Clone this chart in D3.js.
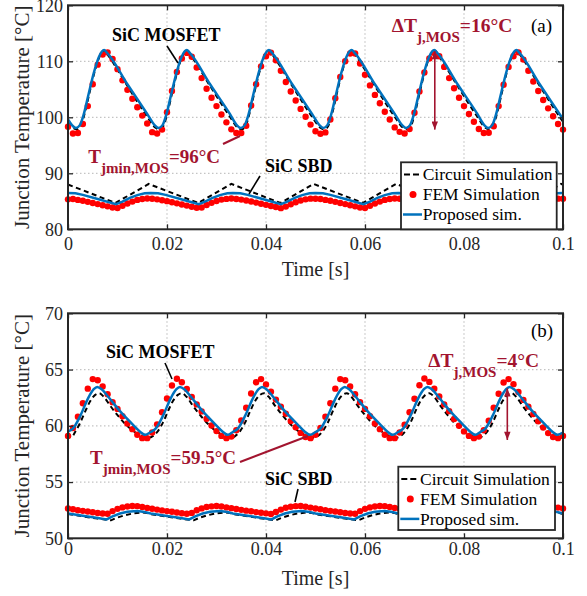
<!DOCTYPE html>
<html>
<head>
<meta charset="utf-8">
<style>
body { margin: 0; background: #fff; }
svg { display: block; }
</style>
</head>
<body>
<svg width="587" height="596"></svg>
<script src="https://d3js.org/d3.v7.min.js"></script>
<script>

// ---- data ----
const xTicks = [0, 0.02, 0.04, 0.06, 0.08, 0.1];
const yTicksA = [80, 90, 100, 110, 120];
const yTicksB = [50, 55, 60, 65, 70];
const legendLabels = ['Circuit Simulation', 'FEM Simulation', 'Proposed sim.'];

// FEM markers, one every 1 ms from 0 to 100 ms
const femTimeMs = d3.range(0, 101);

const femMosA = [
	98.3, 97.1, 97.2, 98.8, 102.0, 105.9, 109.4, 111.2, 111.6, 110.4, 108.6, 106.6, 104.9, 103.3, 101.8, 100.3, 98.9,
	97.35, 97.1, 97.8, 100.9, 104.7, 108.1, 110.5, 111.5, 110.8, 108.9, 107.0, 105.1, 103.5, 102.0, 100.5, 99.1, 97.85,
	97.2, 97.2, 98.5, 102.1, 105.9, 109.1, 110.9, 111.55, 110.2, 108.3, 106.3, 104.6, 103.0, 101.5, 100.1, 98.7,
	97.5, 97.05, 97.3, 99.6, 103.4, 107.2, 110.0, 111.4, 111.4, 109.6, 107.6, 105.7, 104.0, 102.5, 101.0, 99.6, 98.2,
	97.4, 97.1, 97.9, 100.8, 104.6, 108.0, 110.5, 111.5, 110.9, 109.0, 107.0, 105.2, 103.5, 102.0, 100.6, 99.2, 97.9,
	97.2, 97.25, 98.4, 102.0, 105.8, 109.0, 110.9, 111.6, 110.3, 108.3, 106.4, 104.7, 103.1, 101.6, 100.2, 98.8, 97.8
];
const femSbdA = [
	85.35, 85.4, 85.25, 85.1, 84.9, 84.7, 84.5, 84.3, 84.1, 83.9, 83.8, 84.2, 84.6, 84.95, 85.25, 85.4, 85.5,
	85.45, 85.35, 85.2, 85.03, 84.83, 84.63, 84.43, 84.23, 84.03, 83.85, 83.9, 84.33, 84.72, 85.05, 85.3, 85.43, 85.5,
	85.42, 85.3, 85.15, 84.97, 84.77, 84.57, 84.37, 84.17, 83.97, 83.78, 84.05, 84.47, 84.83, 85.15, 85.35, 85.47,
	85.45, 85.4, 85.25, 85.1, 84.9, 84.7, 84.5, 84.3, 84.1, 83.9, 83.8, 84.2, 84.6, 84.95, 85.25, 85.4, 85.5,
	85.45, 85.35, 85.2, 85.03, 84.83, 84.63, 84.43, 84.23, 84.03, 83.85, 83.9, 84.33, 84.72, 85.05, 85.3, 85.43, 85.5,
	85.42, 85.3, 85.15, 84.97, 84.77, 84.57, 84.37, 84.17, 83.97, 83.78, 84.05, 84.47, 84.83, 85.15, 85.35, 85.47, 85.45
];
const femMosB = [
	59.1, 59.8, 60.8, 62.0, 63.3, 64.15, 64.05, 63.5, 62.8, 62.1, 61.5, 60.85, 60.2, 59.7, 59.2, 58.9, 58.9,
	59.4, 60.13, 61.2, 62.43, 63.58, 64.18, 63.87, 63.27, 62.57, 61.9, 61.28, 60.63, 60.03, 59.53, 59.1, 58.9, 59.05,
	59.6, 60.47, 61.6, 62.87, 63.87, 64.15, 63.68, 63.03, 62.33, 61.7, 61.07, 60.42, 59.87, 59.37, 59.0, 58.9,
	59.2, 59.8, 60.8, 62.0, 63.3, 64.15, 64.05, 63.5, 62.8, 62.1, 61.5, 60.85, 60.2, 59.7, 59.2, 58.9, 58.9,
	59.4, 60.1, 61.2, 62.4, 63.6, 64.2, 63.9, 63.3, 62.6, 61.9, 61.3, 60.6, 60.0, 59.5, 59.1, 58.9, 59.05,
	59.6, 60.45, 61.6, 62.85, 63.85, 64.15, 63.7, 63.0, 62.3, 61.7, 61.05, 60.4, 59.85, 59.35, 59.0, 58.9, 59.1
];
const femSbdB = [
	52.65, 52.58, 52.5, 52.44, 52.38, 52.31, 52.25, 52.2, 52.18, 52.42, 52.62, 52.75, 52.83, 52.87, 52.86, 52.78, 52.7,
	52.63, 52.55, 52.48, 52.42, 52.36, 52.29, 52.23, 52.18, 52.26, 52.49, 52.66, 52.78, 52.84, 52.87, 52.83, 52.75, 52.68,
	52.6, 52.53, 52.46, 52.4, 52.33, 52.27, 52.22, 52.16, 52.34, 52.55, 52.71, 52.8, 52.86, 52.87, 52.81, 52.73,
	52.65, 52.58, 52.5, 52.44, 52.38, 52.31, 52.25, 52.2, 52.18, 52.42, 52.62, 52.75, 52.83, 52.87, 52.86, 52.78, 52.7,
	52.63, 52.55, 52.48, 52.42, 52.36, 52.29, 52.23, 52.18, 52.26, 52.49, 52.66, 52.78, 52.84, 52.87, 52.83, 52.75, 52.68,
	52.6, 52.53, 52.46, 52.4, 52.33, 52.27, 52.22, 52.16, 52.34, 52.55, 52.71, 52.8, 52.86, 52.87, 52.81, 52.73, 52.65
];

// line series as [time ms, temperature]
const propMosA = [
	[0, 99.6], [0.8, 98.6], [1.6, 98.1], [2.4, 98.6], [3.2, 100.6], [4.2, 104.3], [5.2, 107.9], [6.2, 110.7], [7.3, 112.0], [7.9, 111.5], [12.0, 105.9], [16.0, 100.6],
	[17.5, 98.6], [18.3, 98.1], [19.1, 98.6], [19.9, 100.6], [20.9, 104.3], [21.9, 107.9], [22.9, 110.7], [24.0, 112.0], [24.6, 111.5], [28.7, 105.9], [32.7, 100.6],
	[34.1, 98.6], [34.9, 98.1], [35.7, 98.6], [36.5, 100.6], [37.5, 104.3], [38.5, 107.9], [39.5, 110.7], [40.6, 112.0], [41.2, 111.5], [45.3, 105.9], [49.3, 100.6],
	[50.8, 98.6], [51.6, 98.1], [52.4, 98.6], [53.2, 100.6], [54.2, 104.3], [55.2, 107.9], [56.2, 110.7], [57.3, 112.0], [57.9, 111.5], [62.0, 105.9], [66.0, 100.6],
	[67.5, 98.6], [68.3, 98.1], [69.1, 98.6], [69.9, 100.6], [70.9, 104.3], [71.9, 107.9], [72.9, 110.7], [74.0, 112.0], [74.6, 111.5], [78.7, 105.9], [82.7, 100.6],
	[84.1, 98.6], [84.9, 98.1], [85.7, 98.6], [86.5, 100.6], [87.5, 104.3], [88.5, 107.9], [89.5, 110.7], [90.6, 112.0], [91.2, 111.5], [95.3, 105.9], [99.3, 100.6], [100, 99.7]
];
const circMosA = [
	[0, 99.2], [0.9, 98.2], [1.8, 97.85], [2.6, 98.5], [3.4, 100.8], [4.4, 104.6], [5.4, 108.2], [6.4, 110.9], [7.4, 111.9], [8.0, 111.2], [12.0, 105.6], [16.0, 100.1],
	[17.6, 98.2], [18.5, 97.85], [19.3, 98.5], [20.1, 100.8], [21.1, 104.6], [22.1, 108.2], [23.1, 110.9], [24.1, 111.9], [24.7, 111.2], [28.7, 105.6], [32.7, 100.1],
	[34.2, 98.2], [35.1, 97.85], [35.9, 98.5], [36.7, 100.8], [37.7, 104.6], [38.7, 108.2], [39.7, 110.9], [40.7, 111.9], [41.3, 111.2], [45.3, 105.6], [49.3, 100.1],
	[50.9, 98.2], [51.8, 97.85], [52.6, 98.5], [53.4, 100.8], [54.4, 104.6], [55.4, 108.2], [56.4, 110.9], [57.4, 111.9], [58.0, 111.2], [62.0, 105.6], [66.0, 100.1],
	[67.6, 98.2], [68.5, 97.85], [69.3, 98.5], [70.1, 100.8], [71.1, 104.6], [72.1, 108.2], [73.1, 110.9], [74.1, 111.9], [74.7, 111.2], [78.7, 105.6], [82.7, 100.1],
	[84.2, 98.2], [85.1, 97.85], [85.9, 98.5], [86.7, 100.8], [87.7, 104.6], [88.7, 108.2], [89.7, 110.9], [90.7, 111.9], [91.3, 111.2], [95.3, 105.6], [99.3, 100.1], [100, 99.2]
];
const propSbdA = [
	[0, 86.5], [1.5, 86.45], [3, 86.15], [6, 85.4], [9.7, 84.5], [11, 84.95], [12.5, 85.6], [14, 86.1], [15.5, 86.45],
	[16.7, 86.5], [18.2, 86.45], [19.7, 86.15], [22.7, 85.4], [26.4, 84.5], [27.7, 84.95], [29.2, 85.6], [30.7, 86.1], [32.2, 86.45],
	[33.3, 86.5], [34.8, 86.45], [36.3, 86.15], [39.3, 85.4], [43.0, 84.5], [44.3, 84.95], [45.8, 85.6], [47.3, 86.1], [48.8, 86.45],
	[50, 86.5], [51.5, 86.45], [53, 86.15], [56, 85.4], [59.7, 84.5], [61, 84.95], [62.5, 85.6], [64, 86.1], [65.5, 86.45],
	[66.7, 86.5], [68.2, 86.45], [69.7, 86.15], [72.7, 85.4], [76.4, 84.5], [77.7, 84.95], [79.2, 85.6], [80.7, 86.1], [82.2, 86.45],
	[83.3, 86.5], [84.8, 86.45], [86.3, 86.15], [89.3, 85.4], [93.0, 84.5], [94.3, 84.95], [95.8, 85.6], [97.3, 86.1], [98.8, 86.45], [100, 86.5]
];
const circSbdA = [
	[0, 88.0], [9.6, 84.7], [16.3, 88.1], [26.3, 84.7], [33.0, 88.1], [42.9, 84.7], [49.6, 88.1],
	[59.6, 84.7], [66.3, 88.1], [76.3, 84.7], [83.0, 88.1], [92.9, 84.7], [99.6, 88.1], [100, 88.0]
];
const propMosB = [
	[0, 59.5], [1, 59.75], [2.5, 60.9], [4, 62.4], [5.2, 63.25], [5.9, 63.45], [6.8, 63.25], [8, 62.65], [10.5, 61.3], [13, 60.15], [14.5, 59.5], [15.6, 59.2],
	[16.7, 59.45], [17.7, 59.75], [19.2, 60.9], [20.7, 62.4], [21.9, 63.25], [22.6, 63.45], [23.5, 63.25], [24.7, 62.65], [27.2, 61.3], [29.7, 60.15], [31.2, 59.5], [32.3, 59.2],
	[33.3, 59.45], [34.3, 59.75], [35.8, 60.9], [37.3, 62.4], [38.5, 63.25], [39.2, 63.45], [40.1, 63.25], [41.3, 62.65], [43.8, 61.3], [46.3, 60.15], [47.8, 59.5], [48.9, 59.2],
	[50, 59.45], [51, 59.75], [52.5, 60.9], [54, 62.4], [55.2, 63.25], [55.9, 63.45], [56.8, 63.25], [58, 62.65], [60.5, 61.3], [63, 60.15], [64.5, 59.5], [65.6, 59.2],
	[66.7, 59.45], [67.7, 59.75], [69.2, 60.9], [70.7, 62.4], [71.9, 63.25], [72.6, 63.45], [73.5, 63.25], [74.7, 62.65], [77.2, 61.3], [79.7, 60.15], [81.2, 59.5], [82.3, 59.2],
	[83.3, 59.45], [84.3, 59.75], [85.8, 60.9], [87.3, 62.4], [88.5, 63.25], [89.2, 63.45], [90.1, 63.25], [91.3, 62.65], [93.8, 61.3], [96.3, 60.15], [97.8, 59.5], [98.9, 59.2], [100, 59.4]
];
const circMosB = [
	[0, 59.4], [0.7, 59.0], [1.5, 59.5], [2.5, 60.3], [3.5, 61.3], [4.5, 62.2], [5.5, 62.75], [6.3, 62.9], [7.2, 62.6], [8.5, 61.8], [10, 60.95], [11.5, 60.2], [13, 59.6], [14.5, 59.2], [15.5, 59.0], [16.4, 58.95],
	[17.2, 59.1], [18.2, 59.55], [19.2, 60.3], [20.2, 61.3], [21.2, 62.2], [22.2, 62.75], [23.0, 62.9], [23.9, 62.6], [25.2, 61.8], [26.7, 60.95], [28.2, 60.2], [29.7, 59.6], [31.2, 59.2], [32.2, 59.0], [33.1, 58.95],
	[33.8, 59.1], [34.8, 59.55], [35.8, 60.3], [36.8, 61.3], [37.8, 62.2], [38.8, 62.75], [39.6, 62.9], [40.5, 62.6], [41.8, 61.8], [43.3, 60.95], [44.8, 60.2], [46.3, 59.6], [47.8, 59.2], [48.8, 59.0], [49.7, 58.95],
	[50.5, 59.1], [51.5, 59.55], [52.5, 60.3], [53.5, 61.3], [54.5, 62.2], [55.5, 62.75], [56.3, 62.9], [57.2, 62.6], [58.5, 61.8], [60, 60.95], [61.5, 60.2], [63, 59.6], [64.5, 59.2], [65.5, 59.0], [66.4, 58.95],
	[67.2, 59.1], [68.2, 59.55], [69.2, 60.3], [70.2, 61.3], [71.2, 62.2], [72.2, 62.75], [73.0, 62.9], [73.9, 62.6], [75.2, 61.8], [76.7, 60.95], [78.2, 60.2], [79.7, 59.6], [81.2, 59.2], [82.2, 59.0], [83.1, 58.95],
	[83.8, 59.1], [84.8, 59.55], [85.8, 60.3], [86.8, 61.3], [87.8, 62.2], [88.8, 62.75], [89.6, 62.9], [90.5, 62.6], [91.8, 61.8], [93.3, 60.95], [94.8, 60.2], [96.3, 59.6], [97.8, 59.2], [98.8, 59.0], [99.7, 58.95], [100, 59.0]
];
const propSbdB = [
	[0, 52.2], [3, 52.0], [6, 51.8], [7.8, 51.68], [9, 51.95], [10.5, 52.2], [12, 52.35], [14, 52.42], [15.5, 52.33],
	[16.7, 52.2], [19.7, 52.0], [22.7, 51.8], [24.5, 51.68], [25.7, 51.95], [27.2, 52.2], [28.7, 52.35], [30.7, 52.42], [32.2, 52.33],
	[33.3, 52.2], [36.3, 52.0], [39.3, 51.8], [41.1, 51.68], [42.3, 51.95], [43.8, 52.2], [45.3, 52.35], [47.3, 52.42], [48.8, 52.33],
	[50, 52.2], [53, 52.0], [56, 51.8], [57.8, 51.68], [59, 51.95], [60.5, 52.2], [62, 52.35], [64, 52.42], [65.5, 52.33],
	[66.7, 52.2], [69.7, 52.0], [72.7, 51.8], [74.5, 51.68], [75.7, 51.95], [77.2, 52.2], [78.7, 52.35], [80.7, 52.42], [82.2, 52.33],
	[83.3, 52.2], [86.3, 52.0], [89.3, 51.8], [91.1, 51.68], [92.3, 51.95], [93.8, 52.2], [95.3, 52.35], [97.3, 52.42], [98.8, 52.33], [100, 52.2]
];
const circSbdB = [
	[0, 52.15], [3, 51.95], [6, 51.75], [8.7, 51.6], [10, 51.85], [11.5, 52.05], [13, 52.2], [15, 52.3], [16, 52.25],
	[16.7, 52.15], [19.7, 51.95], [22.7, 51.75], [25.4, 51.6], [26.7, 51.85], [28.2, 52.05], [29.7, 52.2], [31.7, 52.3], [32.7, 52.25],
	[33.3, 52.15], [36.3, 51.95], [39.3, 51.75], [42.0, 51.6], [43.3, 51.85], [44.8, 52.05], [46.3, 52.2], [48.3, 52.3], [49.3, 52.25],
	[50, 52.15], [53, 51.95], [56, 51.75], [58.7, 51.6], [60, 51.85], [61.5, 52.05], [63, 52.2], [65, 52.3], [66, 52.25],
	[66.7, 52.15], [69.7, 51.95], [72.7, 51.75], [75.4, 51.6], [76.7, 51.85], [78.2, 52.05], [79.7, 52.2], [81.7, 52.3], [82.7, 52.25],
	[83.3, 52.15], [86.3, 51.95], [89.3, 51.75], [92.0, 51.6], [93.3, 51.85], [94.8, 52.05], [96.3, 52.2], [98.3, 52.3], [99.3, 52.25], [100, 52.15]
];

// delta-T arrows: [time s, upper temp, lower temp]
const arrowA = [0.0741, 111.8, 97.8];
const arrowB = [0.08875, 63.33, 58.74];

// ---- drawing ----
const svg = d3.select('svg');
const serif = '"Liberation Serif", "Times New Roman", serif';
const dark = '#262626';
const maroon = '#A2142F';
const blue = '#0072BD';

const x = d3.scaleLinear().domain([0, 0.1]).range([68, 563]);
const fmtX = (d) => (d === 0 ? '0' : String(+d.toFixed(2)));

const defs = svg.append('defs');
defs.append('marker')
	.attr('id', 'head')
	.attr('viewBox', '0 0 10 8')
	.attr('refX', 10).attr('refY', 4)
	.attr('markerWidth', 9).attr('markerHeight', 6.5)
	.attr('markerUnits', 'userSpaceOnUse')
	.attr('orient', 'auto-start-reverse')
	.append('path')
	.attr('d', 'M0,0 L10,4 L0,8 Z')
	.attr('fill', maroon);

function panel(o) {
	const y = d3.scaleLinear().domain(o.yDomain).range([o.bottom, o.top]);
	const g = svg.append('g');

	// grid
	g.append('g').selectAll('line').data(xTicks.slice(1, -1)).join('line')
		.attr('x1', (d) => x(d)).attr('x2', (d) => x(d))
		.attr('y1', o.top).attr('y2', o.bottom);
	g.append('g').selectAll('line').data(o.yTicks.slice(1, -1)).join('line')
		.attr('x1', x(0)).attr('x2', x(0.1))
		.attr('y1', (d) => y(d)).attr('y2', (d) => y(d));
	g.selectAll('line')
		.attr('stroke', '#c4c4c4')
		.attr('stroke-width', 1.2)
		.attr('stroke-dasharray', '1.5,2.5');

	// series
	const smooth = d3.line().x((d) => x(d[0] / 1000)).y((d) => y(d[1])).curve(d3.curveMonotoneX);
	const straight = d3.line().x((d) => x(d[0] / 1000)).y((d) => y(d[1]));

	g.append('path').datum(o.circMos).attr('d', smooth)
		.attr('fill', 'none').attr('stroke', '#000').attr('stroke-width', 2).attr('stroke-dasharray', '5,3.5');
	g.append('path').datum(o.circSbd).attr('d', straight)
		.attr('fill', 'none').attr('stroke', '#000').attr('stroke-width', 2).attr('stroke-dasharray', '5,3.5');

	[o.femMos, o.femSbd].forEach((vals) => {
		g.append('g').selectAll('circle').data(vals).join('circle')
			.attr('cx', (d, i) => x(femTimeMs[i] / 1000))
			.attr('cy', (d) => y(d))
			.attr('r', 3.2)
			.attr('fill', '#ff0000');
	});

	g.append('path').datum(o.propMos).attr('d', smooth)
		.attr('fill', 'none').attr('stroke', blue).attr('stroke-width', 2.5);
	g.append('path').datum(o.propSbd).attr('d', straight)
		.attr('fill', 'none').attr('stroke', blue).attr('stroke-width', 2.5);

	// axes (ticks inside, box on)
	const axes = g.append('g');
	axes.append('g').attr('transform', `translate(0,${o.bottom})`)
		.call(d3.axisBottom(x).tickValues(xTicks).tickSize(-5).tickPadding(o.xPad).tickFormat(fmtX));
	axes.append('g').attr('transform', `translate(0,${o.top})`)
		.call(d3.axisTop(x).tickValues(xTicks).tickSize(-5).tickFormat(''));
	axes.append('g').attr('transform', `translate(${x(0)},0)`)
		.call(d3.axisLeft(y).tickValues(o.yTicks).tickSize(-5).tickPadding(5));
	axes.append('g').attr('transform', `translate(${x(0.1)},0)`)
		.call(d3.axisRight(y).tickValues(o.yTicks).tickSize(-5).tickFormat(''));
	axes.selectAll('.domain').remove();
	axes.selectAll('.tick line').attr('stroke', dark).attr('stroke-width', 1.3);
	axes.selectAll('.tick text')
		.attr('font-family', serif).attr('font-size', 18).attr('fill', dark);

	g.append('rect')
		.attr('x', x(0)).attr('y', o.top)
		.attr('width', x(0.1) - x(0)).attr('height', o.bottom - o.top)
		.attr('fill', 'none').attr('stroke', dark).attr('stroke-width', 2);

	// axis labels
	g.append('text')
		.attr('transform', `translate(29,${(o.top + o.bottom) / 2}) rotate(-90)`)
		.attr('text-anchor', 'middle')
		.attr('font-family', serif).attr('font-size', 21).attr('fill', dark)
		.text('Junction Temperature [°C]');
	g.append('text')
		.attr('x', (x(0) + x(0.1)) / 2).attr('y', o.xLabelY)
		.attr('text-anchor', 'middle')
		.attr('font-family', serif).attr('font-size', 20).attr('fill', dark)
		.text('Time [s]');

	// black labels with leader lines
	o.names.forEach((n) => {
		g.append('text')
			.attr('x', n.x).attr('y', n.y)
			.attr('font-family', serif).attr('font-size', 18).attr('font-weight', 'bold')
			.text(n.text);
		g.append('line')
			.attr('x1', n.line[0]).attr('y1', n.line[1]).attr('x2', n.line[2]).attr('y2', n.line[3])
			.attr('stroke', '#000').attr('stroke-width', 1.6);
	});

	// red annotations: main, subscript, rest
	o.notes.forEach((n) => {
		const t = g.append('text')
			.attr('x', n.x).attr('y', n.y)
			.attr('font-family', serif).attr('font-weight', 'bold').attr('fill', maroon)
			.attr('font-size', n.size);
		t.append('tspan').text(n.main);
		t.append('tspan').attr('dy', 10).attr('font-size', 15).text(n.sub);
		t.append('tspan').attr('dy', -10).text(n.rest);
		if (n.line) {
			g.append('line')
				.attr('x1', n.line[0]).attr('y1', n.line[1]).attr('x2', n.line[2]).attr('y2', n.line[3])
				.attr('stroke', maroon).attr('stroke-width', 2);
		}
	});

	// delta-T double arrow
	g.append('line')
		.attr('x1', x(o.arrow[0])).attr('x2', x(o.arrow[0]))
		.attr('y1', y(o.arrow[1])).attr('y2', y(o.arrow[2]))
		.attr('stroke', maroon).attr('stroke-width', 1.6)
		.attr('marker-start', 'url(#head)').attr('marker-end', 'url(#head)');

	// panel tag
	g.append('text')
		.attr('x', 531).attr('y', o.tagY)
		.attr('font-family', serif).attr('font-size', 19).attr('fill', '#000')
		.text(o.tag);

	// legend
	const L = o.legend;
	const lg = g.append('g').attr('transform', `translate(${L.x},${L.y})`);
	lg.append('rect')
		.attr('width', L.w).attr('height', L.h)
		.attr('fill', '#fff').attr('stroke', dark).attr('stroke-width', 1.8);
	legendLabels.forEach((label, i) => {
		const by = 18.2 + 20 * i;
		const cy = by - 6;
		if (i === 0) {
			lg.append('line').attr('x1', 3).attr('x2', 20).attr('y1', cy).attr('y2', cy)
				.attr('stroke', '#000').attr('stroke-width', 2).attr('stroke-dasharray', '6,3');
		} else if (i === 1) {
			lg.append('circle').attr('cx', 12).attr('cy', cy).attr('r', 3.5).attr('fill', '#ff0000');
		} else {
			lg.append('line').attr('x1', 2).attr('x2', 21).attr('y1', cy).attr('y2', cy)
				.attr('stroke', blue).attr('stroke-width', 2.5);
		}
		lg.append('text')
			.attr('x', 21.7).attr('y', by)
			.attr('font-family', serif).attr('font-size', 17.5).attr('fill', '#000')
			.text(label);
	});
}

panel({
	yDomain: [80, 120], yTicks: yTicksA, top: 5.3, bottom: 229.3, xPad: 8, xLabelY: 276,
	femMos: femMosA, femSbd: femSbdA, propMos: propMosA, propSbd: propSbdA, circMos: circMosA, circSbd: circSbdA,
	arrow: arrowA, tag: '(a)', tagY: 31.7,
	names: [
		{text: 'SiC MOSFET', x: 112, y: 40.7, line: [167, 46, 178, 63]},
		{text: 'SiC SBD', x: 265, y: 171.7, line: [260, 176, 249, 194]}
	],
	notes: [
		{main: 'T', sub: 'jmin,MOS', rest: '=96°C', x: 88.3, y: 162.7, size: 19, line: [223, 144, 240, 136]},
		{main: 'ΔT', sub: 'j,MOS', rest: '=16°C', x: 391.7, y: 31.7, size: 19.5}
	],
	legend: {x: 401, y: 162.3, w: 155.7, h: 67}
});

panel({
	yDomain: [50, 70], yTicks: yTicksB, top: 313.3, bottom: 538.3, xPad: 4, xLabelY: 584.5,
	femMos: femMosB, femSbd: femSbdB, propMos: propMosB, propSbd: propSbdB, circMos: circMosB, circSbd: circSbdB,
	arrow: arrowB, tag: '(b)', tagY: 337.3,
	names: [
		{text: 'SiC MOSFET', x: 106, y: 358.3, line: [165, 363, 172, 379]},
		{text: 'SiC SBD', x: 265, y: 485, line: [298, 489, 295, 502]}
	],
	notes: [
		{main: 'T', sub: 'jmin,MOS', rest: '=59.5°C', x: 90, y: 464.3, size: 19, line: [240, 462, 308, 436]},
		{main: 'ΔT', sub: 'j,MOS', rest: '=4°C', x: 428.3, y: 366.7, size: 19.5}
	],
	legend: {x: 398.3, y: 466.7, w: 156.7, h: 63.3}
});

</script>
</body>
</html>
